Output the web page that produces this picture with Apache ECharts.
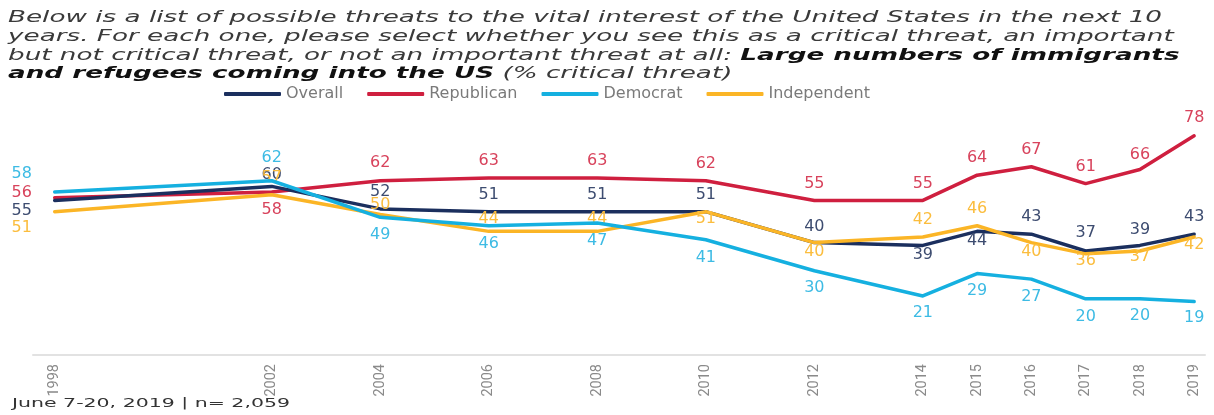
<!DOCTYPE html>
<html>
<head>
<meta charset="utf-8">
<title>Immigrants and refugees as a critical threat</title>
<script src="https://cdn.jsdelivr.net/npm/echarts@6/dist/echarts.min.js"></script>
<style>
  html, body { margin: 0; padding: 0; background: #fff; }
  #chart { width: 1214px; height: 415px; }
</style>
</head>
<body>
<div id="chart"></div>
<script>
// Survey years (x axis) and tick labels
const years = [1998, 2002, 2004, 2006, 2008, 2010, 2012, 2014, 2015, 2016, 2017, 2018, 2019];
const yearTicks = [1998, 2002, 2004, 2006, 2008, 2010, 2012, 2014, 2015, 2016, 2017, 2018, 2019];

// % saying "critical threat"
const overall     = [55, 60, 52, 51, 51, 51, 40, 39, 44, 43, 37, 39, 43];
const republican  = [56, 58, 62, 63, 63, 62, 55, 55, 64, 67, 61, 66, 78];
const democrat    = [58, 62, 49, 46, 47, 41, 30, 21, 29, 27, 20, 20, 19];
const independent = [51, 57, 50, 44, 44, 51, 40, 42, 46, 40, 36, 37, 42];

// Vertical offset of each value label from its point (px, negative = above)
const overallLabelDy     = [10, -12, -17, -17, -17, -17, -16, 9, 9, -17, -18, -16, -17];
const republicanLabelDy  = [-5, 18, -18, -17, -17, -17, -17, -17, -17, -17, -17, -15, -18];
const democratLabelDy    = [-18, -23, 18, 18, 18, 18, 17, 17, 17, 18, 18, 17, 16];
const independentLabelDy = [16, -17, -10, -13, -13, 7, 9, -17, -17, 9, 7, 6, 8];
const firstLabelDx = -33;   // first-year labels sit to the left of the line start

// Heading lines: [regular part, bold part, regular tail]
const titleLines = [
  ['Below is a list of possible threats to the vital interest of the United States in the next 10', '', ''],
  ['years. For each one, please select whether you see this as a critical threat, an important', '', ''],
  ['but not critical threat, or not an important threat at all: ', 'Large numbers of immigrants', ''],
  ['', 'and refugees coming into the US', ' (% critical threat)']
];
const footnote = 'June 7-20, 2019 | n= 2,059';

const FONT = '"DejaVu Sans", "Noto Sans", sans-serif';

// Horizontal stretch so the wide-set heading spans its full line
function stretchFor(text, font, targetWidth) {
  const ctx = document.createElement('canvas').getContext('2d');
  ctx.font = font;
  return targetWidth / ctx.measureText(text).width;
}
const titleScale = stretchFor(titleLines[0][0], 'italic 15px "DejaVu Sans"', 1154);
const noteScale = stretchFor(footnote, '12.5px "DejaVu Sans"', 278);

const titleRich = {
  n: { fontFamily: FONT, fontStyle: 'italic', fontSize: 15, fill: '#3a3a3a' },
  b: { fontFamily: FONT, fontStyle: 'italic', fontWeight: 'bold', fontSize: 15, fill: '#111111' }
};
const titleLineY = [18, 37, 56, 74.5];

const titleGraphics = titleLines.map((parts, i) => ({
  type: 'text',
  x: 8,
  y: titleLineY[i],
  scaleX: titleScale,
  style: {
    text: (parts[0] ? '{n|' + parts[0] + '}' : '') +
          (parts[1] ? '{b|' + parts[1] + '}' : '') +
          (parts[2] ? '{n|' + parts[2] + '}' : ''),
    rich: titleRich,
    align: 'left',
    verticalAlign: 'middle'
  }
}));

function makeSeries(name, values, dys, lineColor, labelColor, z) {
  return {
    name: name,
    type: 'line',
    z: z,
    symbol: 'circle',
    symbolSize: 1,
    showSymbol: true,
    smooth: false,
    itemStyle: { color: lineColor },
    lineStyle: { color: lineColor, width: 3.5, cap: 'round', join: 'round' },
    label: {
      show: true,
      position: 'inside',
      color: labelColor,
      fontFamily: FONT,
      fontSize: 16,
      formatter: p => String(p.value[1])
    },
    emphasis: { disabled: true },
    data: values.map((v, i) => ({
      value: [years[i], v],
      label: { offset: [i === 0 ? firstLabelDx : 0, dys[i]] }
    }))
  };
}

const chart = echarts.init(document.getElementById('chart'), null, { renderer: 'canvas' });

chart.setOption({
  animation: false,
  backgroundColor: '#ffffff',
  graphic: titleGraphics.concat([
    {
      type: 'text',
      x: 12,
      y: 404,
      scaleX: noteScale,
      style: {
        text: footnote,
        fontFamily: FONT,
        fontSize: 12.5,
        fill: '#333333',
        align: 'left',
        verticalAlign: 'middle'
      }
    }
  ]),
  legend: {
    left: 219,
    top: 81,
    itemWidth: 57,
    itemHeight: 4,
    itemGap: 24,
    icon: 'roundRect',
    selectedMode: false,
    textStyle: { fontFamily: FONT, fontSize: 16, color: '#7a7a7a' },
    data: [
      { name: 'Overall', textStyle: { width: 83 } },
      { name: 'Republican', textStyle: { width: 131 } },
      { name: 'Democrat', textStyle: { width: 112 } },
      { name: 'Independent', textStyle: { width: 155 } }
    ]
  },
  grid: { left: 33, right: 9, top: 74, bottom: 60 },
  xAxis: {
    type: 'value',
    min: 1997.6,
    max: 2019.2,
    axisLine: { show: true, lineStyle: { color: '#e2e2e2', width: 2 } },
    axisTick: { show: false },
    splitLine: { show: false },
    axisLabel: {
      customValues: yearTicks,
      rotate: 90,
      margin: 9,
      color: '#8a8a8a',
      fontFamily: '"Liberation Sans Narrow", "Roboto", sans-serif',
      fontSize: 14.5,
      formatter: v => String(v)
    }
  },
  yAxis: {
    type: 'value',
    min: 0,
    max: 100,
    show: false,
    splitLine: { show: false }
  },
  series: [
    makeSeries('Republican', republican, republicanLabelDy, '#cf1f3f', '#d8435c', 2),
    makeSeries('Overall', overall, overallLabelDy, '#1b2f5e', '#3d4c70', 3),
    makeSeries('Independent', independent, independentLabelDy, '#fbb526', '#fbbd3e', 4),
    makeSeries('Democrat', democrat, democratLabelDy, '#15b0e0', '#3dbbe4', 5)
  ]
});
</script>
</body>
</html>
